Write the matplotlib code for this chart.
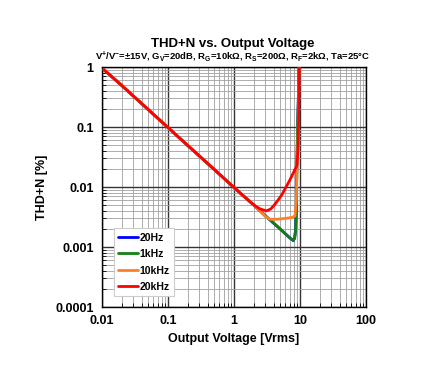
import matplotlib
matplotlib.use("Agg")
import matplotlib.pyplot as plt
from matplotlib.ticker import LogLocator, FixedLocator, FixedFormatter, NullFormatter

plt.rcParams['font.family'] = ['Liberation Sans', 'DejaVu Sans']
plt.rcParams['mathtext.fontset'] = 'custom'
plt.rcParams['mathtext.rm'] = 'Liberation Sans:bold'
plt.rcParams['mathtext.it'] = 'Liberation Sans:bold'
plt.rcParams['mathtext.bf'] = 'Liberation Sans:bold'
plt.rcParams['mathtext.default'] = 'rm'

# Data
common_v = [0.0107, 0.02, 0.05, 0.1, 0.2, 0.5, 1.0, 1.5, 2.0]
common_thd = [0.90, 0.49, 0.196, 0.098, 0.049, 0.0197, 0.0098, 0.0066, 0.0050]

v_20hz = common_v + [3.0, 5.0, 7.0, 7.9, 8.3, 8.6, 8.8, 8.95, 9.2, 9.5, 9.7]
thd_20hz = common_thd + [0.0033, 0.0020, 0.00142, 0.00128, 0.0014, 0.002, 0.005, 0.02, 0.1, 0.4, 1.0]

v_1khz = common_v + [3.0, 5.0, 7.0, 7.9, 8.3, 8.6, 8.8, 8.95, 9.2, 9.5, 9.7]
thd_1khz = common_thd + [0.0033, 0.0020, 0.00142, 0.00131, 0.0014, 0.002, 0.005, 0.02, 0.1, 0.4, 1.0]

v_10khz = common_v + [2.5, 3.0, 3.5, 4.5, 6.0, 7.5, 8.4, 8.8, 9.0, 9.3, 9.5, 9.7]
thd_10khz = common_thd + [0.0040, 0.0032, 0.0029, 0.0029, 0.0030, 0.0031, 0.0033, 0.006, 0.02, 0.05, 0.3, 1.0]

v_20khz = common_v + [2.5, 3.1, 3.6, 4.2, 5.3, 7.0, 9.0, 9.4, 9.6, 9.7]
thd_20khz = common_thd + [0.0043, 0.0040, 0.0043, 0.0052, 0.0074, 0.013, 0.023, 0.05, 0.3, 1.0]

labels = ['20Hz', '1kHz', '10kHz', '20kHz']
colors = ['#0000ff', '#128012', '#ff7f27', '#ff0000']

x_ticks = [0.01, 0.1, 1, 10, 100]
x_ticklabels = ['0.01', '0.1', '1', '10', '100']
y_ticks = [0.0001, 0.001, 0.01, 0.1, 1]
y_ticklabels = ['0.0001', '0.001', '0.01', '0.1', '1']

fig = plt.figure(figsize=(4.4, 3.72), dpi=100)
ax = fig.add_axes([102/440, 1-307/372, 264/440, 240/372])

series = [(v_20hz, thd_20hz), (v_1khz, thd_1khz), (v_10khz, thd_10khz), (v_20khz, thd_20khz)]
for (v, t), lab, c in zip(series, labels, colors):
    ax.plot(v, t, color=c, lw=2.0, label=lab, solid_capstyle='round', zorder=3)

ax.set_xscale('log')
ax.set_yscale('log')
ax.set_xlim(0.01, 100)
ax.set_ylim(0.0001, 1)

ax.xaxis.set_major_locator(FixedLocator(x_ticks))
ax.xaxis.set_major_formatter(FixedFormatter(x_ticklabels))
ax.yaxis.set_major_locator(FixedLocator(y_ticks))
ax.yaxis.set_major_formatter(FixedFormatter(y_ticklabels))
ax.xaxis.set_minor_locator(LogLocator(base=10, subs=range(2, 10), numticks=20))
ax.yaxis.set_minor_locator(LogLocator(base=10, subs=range(2, 10), numticks=20))
ax.xaxis.set_minor_formatter(NullFormatter())
ax.yaxis.set_minor_formatter(NullFormatter())

ax.grid(which='major', color='#333333', lw=1.0, zorder=1)
ax.grid(which='minor', color='#a0a0a0', lw=0.6, zorder=1)
ax.set_axisbelow(True)
ax.tick_params(which='both', direction='in', length=3, width=0.6)
ax.tick_params(which='major', length=0, pad=6)
for lab in ax.get_xticklabels() + ax.get_yticklabels():
    lab.set_fontweight('bold')
    lab.set_fontsize(9)
for s in ax.spines.values():
    s.set_color('black')
    s.set_linewidth(1.0)

ax.set_xlabel('Output Voltage [Vrms]', fontsize=9, fontweight='bold', labelpad=4)
ax.set_ylabel('THD+N [%]', fontsize=9, fontweight='bold', labelpad=5)

fig.text(233/440, 1-44/372, 'THD+N vs. Output Voltage', ha='center', va='center',
         fontsize=9.5, fontweight='bold')
fig.text(233/440, 1-57/372,
         r'V$^{+}$/V$^{-}$=±15V, G$_{V}$=20dB, R$_{G}$=10kΩ, R$_{S}$=200Ω, R$_{F}$=2kΩ, Ta=25°C',
         ha='center', va='center', fontsize=6.8, fontweight='bold')

leg = ax.legend(loc='lower left', bbox_to_anchor=(0.045, 0.045), borderaxespad=0,
                prop={'weight': 'bold', 'size': 7.5}, handlelength=1.9, handletextpad=0.15,
                labelspacing=0.62, fancybox=False, framealpha=1, edgecolor='#cccccc',
                borderpad=0.4)
leg.get_frame().set_linewidth(0.8)

fig.savefig('out.png', dpi=100)
